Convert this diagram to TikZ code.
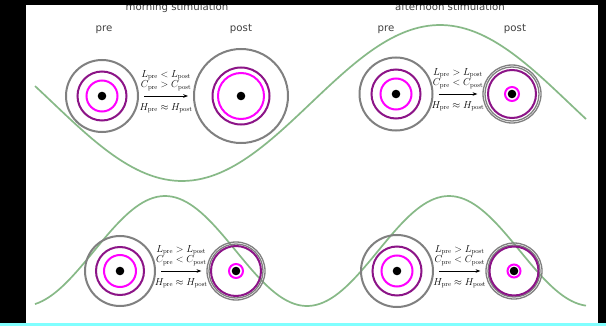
\documentclass[tikz,border=0pt]{standalone}
\usepackage{fontspec}
\setsansfont{DejaVu Sans}
\usetikzlibrary{arrows.meta,positioning}
\definecolor{ringgray}{RGB}{128,128,128}
\definecolor{ringpurple}{RGB}{140,20,135}
\definecolor{ringmagenta}{RGB}{255,0,255}
\definecolor{wavegreen}{RGB}{135,185,135}
\definecolor{edgecyan}{RGB}{128,255,255}

\begin{document}
\begin{tikzpicture}[x=0.5mm, y=-0.5mm, >=Stealth,
    ring/.style={circle, draw=#1, line width=1mm, inner sep=0pt},
    thinring/.style={circle, draw=ringgray, line width=0.65mm, inner sep=0pt},
    core/.style={circle, fill=black, inner sep=0pt, minimum size=4.3mm},
    wave/.style={wavegreen, line width=0.85mm},
    title/.style={font=\sffamily\fontsize{14.5}{16}\selectfont, text=black!75, anchor=base},
    rel/.style={font=\fontsize{13.8}{14.6}\selectfont, align=center, inner sep=2.5mm},
    change/.style={-{Stealth[length=2.4mm, width=1.8mm]}, line width=0.45mm, shorten <=2.5mm, shorten >=2.5mm}]

    \useasboundingbox (0,0) rectangle (606,326);
    \fill[black] (0,0) rectangle (606,326);
    \fill[white] (26,5) rectangle (598,323);
    \fill[edgecyan] (0,323) rectangle (606,326);

    % day rhythm curves
    \draw[wave] plot[domain=35:586, samples=120] (\x, {103+78*cos((\x-182)/258*180)});
    \draw[wave] plot[domain=35:586, samples=150] (\x, {251-55*cos((\x-165)/284*360)});

    % morning stimulation
    \node[title] (mtitle) at (177,11) {morning stimulation};
    \node[title] (mprelabel) at (104,31.5) {pre};
    \node[title] (mpostlabel) at (241,31.5) {post};
    \node[ring=ringgray, minimum size=36mm] (mpre) at (102,96) {};
    \node[ring=ringpurple, minimum size=24.5mm] (mpre1) at (mpre) {};
    \node[ring=ringmagenta, minimum size=15.5mm] (mpre2) at (mpre) {};
    \node[core] (mpre3) at (mpre) {};
    \node[ring=ringgray, minimum size=47mm] (mpost) at (241,96) {};
    \node[ring=ringpurple, minimum size=28.5mm] (mpost1) at (mpost) {};
    \node[ring=ringmagenta, minimum size=23mm] (mpost2) at (mpost) {};
    \node[core] (mpost3) at (mpost) {};
    \draw[change] (mpre) -- node[rel, above] {$L_{\mathrm{pre}} < L_{\mathrm{post}}$\\ $C_{\mathrm{pre}} > C_{\mathrm{post}}$}
        node[rel, below=1mm] {$H_{\mathrm{pre}} \approx H_{\mathrm{post}}$} (mpost);

    % afternoon stimulation
    \node[title] (atitle) at (450,11) {afternoon stimulation};
    \node[title] (aprelabel) at (386,31.5) {pre};
    \node[title] (apostlabel) at (515,31.5) {post};
    \node[ring=ringgray, minimum size=36.5mm] (apre) at (396,94) {};
    \node[ring=ringpurple, minimum size=24.5mm] (apre1) at (apre) {};
    \node[ring=ringmagenta, minimum size=15.5mm] (apre2) at (apre) {};
    \node[core] (apre3) at (apre) {};
    \node[thinring, minimum size=29mm] (apost) at (512,94) {};
    \node[thinring, minimum size=27mm] (apost0) at (apost) {};
    \node[ring=ringpurple, minimum size=24mm] (apost1) at (apost) {};
    \node[ring=ringmagenta, minimum size=7mm] (apost2) at (apost) {};
    \node[core] (apost3) at (apost) {};
    \draw[change] (apre) -- node[rel, above] {$L_{\mathrm{pre}} > L_{\mathrm{post}}$\\ $C_{\mathrm{pre}} < C_{\mathrm{post}}$}
        node[rel, below=1mm] {$H_{\mathrm{pre}} \approx H_{\mathrm{post}}$} (apost);

    % lower left
    \node[ring=ringgray, minimum size=35mm] (lpre) at (120,271) {};
    \node[ring=ringpurple, minimum size=24mm] (lpre1) at (lpre) {};
    \node[ring=ringmagenta, minimum size=16mm] (lpre2) at (lpre) {};
    \node[core] (lpre3) at (lpre) {};
    \node[thinring, minimum size=29mm] (lpost) at (236,271) {};
    \node[thinring, minimum size=27mm] (lpost0) at (lpost) {};
    \node[ring=ringpurple, minimum size=25mm] (lpost1) at (lpost) {};
    \node[ring=ringmagenta, minimum size=7mm] (lpost2) at (lpost) {};
    \node[core] (lpost3) at (lpost) {};
    \draw[change] (lpre) -- node[rel, above] {$L_{\mathrm{pre}} > L_{\mathrm{post}}$\\ $C_{\mathrm{pre}} < C_{\mathrm{post}}$}
        node[rel, below=1mm] {$H_{\mathrm{pre}} \approx H_{\mathrm{post}}$} (lpost);

    % lower right
    \node[ring=ringgray, minimum size=36mm] (rpre) at (397,271) {};
    \node[ring=ringpurple, minimum size=24.5mm] (rpre1) at (rpre) {};
    \node[ring=ringmagenta, minimum size=15.5mm] (rpre2) at (rpre) {};
    \node[core] (rpre3) at (rpre) {};
    \node[thinring, minimum size=28mm] (rpost) at (514,271) {};
    \node[thinring, minimum size=26mm] (rpost0) at (rpost) {};
    \node[ring=ringpurple, minimum size=24.5mm] (rpost1) at (rpost) {};
    \node[ring=ringmagenta, minimum size=6.5mm] (rpost2) at (rpost) {};
    \node[core] (rpost3) at (rpost) {};
    \draw[change] (rpre) -- node[rel, above] {$L_{\mathrm{pre}} > L_{\mathrm{post}}$\\ $C_{\mathrm{pre}} < C_{\mathrm{post}}$}
        node[rel, below=1mm] {$H_{\mathrm{pre}} \approx H_{\mathrm{post}}$} (rpost);

    \fill[black] (0,0) rectangle (606,5);
\end{tikzpicture}
\end{document}
